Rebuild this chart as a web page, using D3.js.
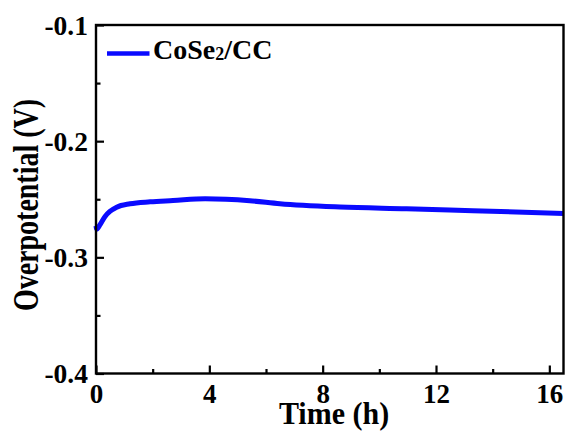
<!DOCTYPE html>
<html>
<head>
<meta charset="utf-8">
<script src="https://cdn.jsdelivr.net/npm/d3@7"></script>
<style>
  html, body { margin: 0; padding: 0; background: #fff; }
  svg { display: block; }
  text { font-family: "Liberation Serif", "Times New Roman", serif; font-weight: bold; fill: #000; }
</style>
</head>
<body>
<svg id="chart" width="566" height="431"></svg>
<script>
// Stability test: overpotential vs. time for CoSe2/CC
const timeH = [0, 0.02, 0.14, 0.32, 0.49, 0.73, 1.2, 1.91, 2.72, 3.85, 5.43, 6.49, 8.61, 10.96, 13.3, 16.5];
const overpotential = [-0.273, -0.2757, -0.272, -0.2648, -0.2605, -0.2568, -0.2539, -0.2522, -0.2511, -0.2496, -0.2513, -0.2539, -0.2567, -0.2582, -0.2599, -0.2622];
const xTicks = [0, 4, 8, 12, 16];
const xMinorTicks = [2, 6, 10, 14];
const yTicks = [-0.4, -0.3, -0.2, -0.1];
const yMinorTicks = [-0.35, -0.25, -0.15];
const seriesName = "CoSe";
const seriesSub = "2";
const seriesTail = "/CC";

const W = 566, H = 431;
const margin = { left: 96, top: 25, right: 2.5, bottom: 57.5 };
const svg = d3.select("#chart");
svg.append("rect").attr("width", W).attr("height", H).attr("fill", "#fff");

const x = d3.scaleLinear().domain([0, 16.5]).range([margin.left, W - margin.right]);
const y = d3.scaleLinear().domain([-0.4, -0.1]).range([H - margin.bottom, margin.top]);

const data = timeH.map((t, i) => ({ t, v: overpotential[i] }));

// curve
svg.append("path")
  .datum(data)
  .attr("fill", "none")
  .attr("stroke", "#0a0aff")
  .attr("stroke-width", 5)
  .attr("stroke-linejoin", "round")
  .attr("d", d3.line().x(d => x(d.t)).y(d => y(d.v)).curve(d3.curveMonotoneX));

// frame
svg.append("rect")
  .attr("x", x(0)).attr("y", y(-0.1))
  .attr("width", x(16.5) - x(0)).attr("height", y(-0.4) - y(-0.1))
  .attr("fill", "none").attr("stroke", "#000").attr("stroke-width", 2.4);

// bottom axis
const xAxis = svg.append("g").attr("transform", `translate(0,${y(-0.4)})`)
  .call(d3.axisBottom(x).tickValues(xTicks).tickSizeInner(-8).tickSizeOuter(0).tickFormat(d3.format("d")));
xAxis.select(".domain").remove();
xAxis.selectAll(".tick line").attr("stroke", "#000").attr("stroke-width", 2.2);
xAxis.selectAll(".tick text").attr("font-size", 27).attr("font-family", "Liberation Serif").attr("font-weight", "bold").attr("y", 11).attr("dy", "0.7em");
const xMinor = svg.append("g").attr("transform", `translate(0,${y(-0.4)})`)
  .call(d3.axisBottom(x).tickValues(xMinorTicks).tickSizeInner(-4.5).tickSizeOuter(0).tickFormat(""));
xMinor.select(".domain").remove();
xMinor.selectAll(".tick line").attr("stroke", "#000").attr("stroke-width", 2.2);

// left axis
const yAxis = svg.append("g").attr("transform", `translate(${x(0)},0)`)
  .call(d3.axisLeft(y).tickValues(yTicks).tickSizeInner(-8).tickSizeOuter(0).tickFormat(d => d3.format(".1f")(d).replace("−", "-")));
yAxis.select(".domain").remove();
yAxis.selectAll(".tick line").attr("stroke", "#000").attr("stroke-width", 2.2);
yAxis.selectAll(".tick text").attr("font-size", 27.5).attr("font-family", "Liberation Serif").attr("font-weight", "bold").attr("x", -8).attr("dy", "0.34em");
const yMinor = svg.append("g").attr("transform", `translate(${x(0)},0)`)
  .call(d3.axisLeft(y).tickValues(yMinorTicks).tickSizeInner(-4.5).tickSizeOuter(0).tickFormat(""));
yMinor.select(".domain").remove();
yMinor.selectAll(".tick line").attr("stroke", "#000").attr("stroke-width", 2.2);

// axis titles
svg.append("text")
  .attr("transform", "translate(334,424) scale(1,1.06)")
  .attr("text-anchor", "middle").attr("font-size", 30)
  .text("Time (h)");
svg.append("text")
  .attr("transform", "translate(38,205) rotate(-90) scale(1,1.28)")
  .attr("text-anchor", "middle").attr("font-size", 28)
  .text("Overpotential (V)");

// legend
svg.append("line")
  .attr("x1", 107).attr("x2", 149.5).attr("y1", 53.5).attr("y2", 53.5)
  .attr("stroke", "#0a0aff").attr("stroke-width", 4.5);
const leg = svg.append("text").attr("x", 153).attr("y", 59).attr("font-size", 28);
leg.append("tspan").text(seriesName);
leg.append("tspan").attr("font-size", 18).attr("dy", 1).text(seriesSub);
leg.append("tspan").attr("dy", -1).text(seriesTail);
</script>
</body>
</html>
